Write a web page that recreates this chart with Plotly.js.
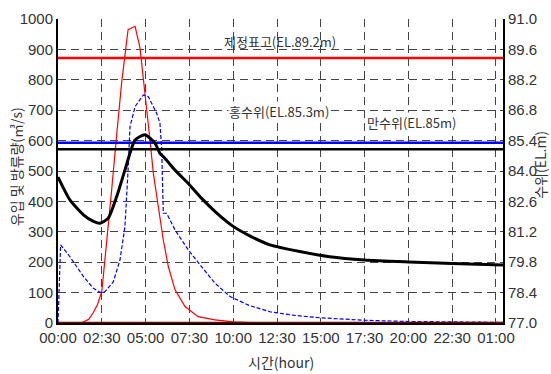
<!DOCTYPE html>
<html>
<head>
<meta charset="utf-8">
<script src="https://cdn.plot.ly/plotly-3.0.1.min.js"></script>
<style>
html,body{margin:0;padding:0;background:#fff;}
#chart{width:551px;height:374px;}
</style>
</head>
<body>
<div id="chart"></div>
<script>
// ---- data (hours since 00:00) ----
const tickVals = [0, 2.5, 5, 7.5, 10, 12.5, 15, 17.5, 20, 22.5, 25];
const tickLabels = ["00:00","02:30","05:00","07:30","10:00","12:30","15:00","17:30","20:00","22:30","01:00"];
const y2TickVals = [77.0, 78.4, 79.8, 81.2, 82.6, 84.0, 85.4, 86.8, 88.2, 89.6, 91.0];

// inflow (m3/s)
const inflowT = [0, 1.2, 1.45, 1.75, 2.0, 2.25, 2.5, 2.75, 3.05, 3.35, 3.64, 4.0, 4.4, 4.68, 4.97, 5.25, 5.44, 5.73, 6.01, 6.3, 6.68, 7.25, 8.0, 8.96, 10.0, 11.0, 12.0];
const inflowQ = [0, 0, 3, 12, 33, 60, 103, 245, 430, 619, 795, 965, 976, 905, 760, 602, 493, 372, 273, 185, 109, 54, 21, 10, 4, 1, 0];

// outflow (m3/s)
const outflowT = [0, 0.15, 0.68, 1.45, 2.02, 2.4, 2.68, 3.16, 3.54, 3.82, 4.0, 4.11, 4.4, 4.87, 5.15, 5.63, 5.82, 5.92, 6.01, 6.2, 6.68, 7.44, 8.2, 8.96, 9.82, 10.9, 12.1, 13.5, 15.0, 17.5, 20.0, 22.5, 25.4];
const outflowQ = [0, 257, 218, 153, 114, 101, 103, 136, 208, 317, 503, 646, 712, 750, 745, 690, 657, 569, 361, 361, 306, 240, 185, 131, 87, 58, 37, 25, 17, 9, 5, 3, 2];

// reservoir level (EL.m)
const levelT = [0, 0.68, 1.45, 2.0, 2.4, 2.87, 3.35, 3.82, 4.4, 4.97, 5.54, 5.82, 6.1, 6.68, 7.5, 8.2, 9.0, 10.0, 11.0, 12.1, 13.8, 15.5, 17.5, 20.0, 22.5, 25.4];
const levelEL = [83.72, 82.67, 81.98, 81.69, 81.59, 81.83, 82.82, 84.04, 85.43, 85.67, 85.27, 84.81, 84.59, 84.04, 83.37, 82.74, 82.11, 81.45, 80.99, 80.60, 80.29, 80.05, 79.90, 79.81, 79.74, 79.67];

// reference elevations
const crestEL = 89.2;   // 제정표고
const floodEL = 85.3;   // 홍수위
const normalEL = 85.0;  // 만수위
const tEnd = 25.4;

const baseT = [0, tEnd];
const baseQ = [0, 0];

const traces = [
  {x: inflowT, y: inflowQ, type: 'scatter', mode: 'lines', line: {color: '#ff0000', width: 1.2}, name: '유입량'},
  {x: outflowT, y: outflowQ, type: 'scatter', mode: 'lines', line: {color: '#0000ff', width: 1.2, dash: '4px,2px'}, name: '방류량'},
  {x: baseT, y: baseQ, type: 'scatter', mode: 'lines', line: {color: '#800000', width: 2.5}, name: 'base'},
  {x: baseT, y: [crestEL, crestEL], yaxis: 'y2', type: 'scatter', mode: 'lines', line: {color: '#ff0000', width: 2.5}, name: '제정표고'},
  {x: baseT, y: [floodEL, floodEL], yaxis: 'y2', type: 'scatter', mode: 'lines', line: {color: '#0000ff', width: 2.5}, name: '홍수위'},
  {x: baseT, y: [normalEL, normalEL], yaxis: 'y2', type: 'scatter', mode: 'lines', line: {color: '#000000', width: 2.5}, name: '만수위'},
  {x: levelT, y: levelEL, yaxis: 'y2', type: 'scatter', mode: 'lines', line: {color: '#000000', width: 3, shape: 'spline', smoothing: 0.6}, name: '수위'}
];

const tickFont = {family: 'Liberation Sans, Arial, sans-serif', size: 15, color: '#333'};
const korFont = {family: 'Noto Sans CJK KR, sans-serif', size: 14, color: '#333'};
const annFont = {family: 'Noto Sans CJK KR, sans-serif', size: 13, color: '#333'};

const layout = {
  width: 551, height: 374,
  margin: {l: 58, r: 48, t: 19, b: 51},
  paper_bgcolor: '#fff', plot_bgcolor: '#fff',
  showlegend: false,
  xaxis: {
    range: [0, tEnd], tickvals: tickVals, ticktext: tickLabels,
    showgrid: true, gridcolor: '#444', griddash: '8px,5px', gridwidth: 1,
    showline: true, linecolor: '#000', linewidth: 2, zeroline: false,
    ticks: '', tickfont: tickFont
  },
  yaxis: {
    range: [0, 1000], dtick: 100, tick0: 0,
    showgrid: true, gridcolor: '#444', griddash: '8px,5px', gridwidth: 1,
    showline: true, linecolor: '#000', linewidth: 2, zeroline: false,
    ticks: '', tickfont: tickFont
  },
  yaxis2: {
    overlaying: 'y', side: 'right', range: [77, 91],
    tickvals: y2TickVals, ticktext: y2TickVals.map(v => v.toFixed(1)),
    showgrid: false, showline: true, linecolor: '#000', linewidth: 2, zeroline: false,
    ticks: '', tickfont: tickFont
  },
  annotations: [
    {xref: 'x', yref: 'y', x: 12.67, y: 925, text: '제정표고(EL.89.2m)', showarrow: false, font: annFont, xanchor: 'center', yanchor: 'middle'},
    {xref: 'x', yref: 'y', x: 12.6, y: 695, text: '홍수위(EL.85.3m)', showarrow: false, font: annFont, bgcolor: '#fff', borderpad: 0, xanchor: 'center', yanchor: 'middle'},
    {xref: 'x', yref: 'y', x: 20.18, y: 658, text: '만수위(EL.85m)', showarrow: false, font: annFont, bgcolor: '#fff', borderpad: 0, xanchor: 'center', yanchor: 'middle'},
    {xref: 'paper', yref: 'paper', x: -0.094, y: 0.513, text: '유입 및 방류량(㎥/s)', textangle: -90, showarrow: false, font: korFont, xanchor: 'center', yanchor: 'middle'},
    {xref: 'paper', yref: 'paper', x: 1.083, y: 0.52, text: '수위(EL.m)', textangle: -90, showarrow: false, font: korFont, xanchor: 'center', yanchor: 'middle'},
    {xref: 'paper', yref: 'paper', x: 0.5, y: -0.128, text: '시간(hour)', showarrow: false, font: korFont, xanchor: 'center', yanchor: 'middle'}
  ]
};

Plotly.newPlot('chart', traces, layout, {displayModeBar: false, staticPlot: true});
</script>
</body>
</html>
